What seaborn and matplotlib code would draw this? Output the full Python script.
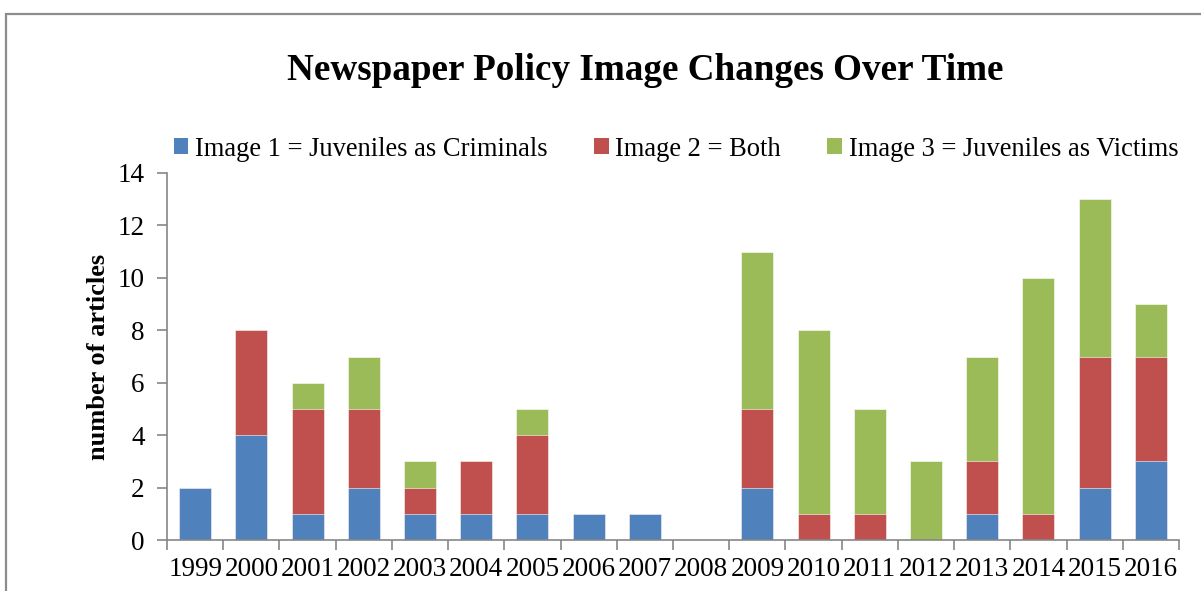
import numpy as np
import pandas as pd
import seaborn as sns
import matplotlib.pyplot as plt
from matplotlib.patches import Rectangle, Patch

years = ["1999", "2000", "2001", "2002", "2003", "2004", "2005", "2006", "2007",
         "2008", "2009", "2010", "2011", "2012", "2013", "2014", "2015", "2016"]
criminals = [2, 4, 1, 2, 1, 1, 1, 1, 1, 0, 2, 0, 0, 0, 1, 0, 2, 3]
both = [0, 4, 4, 3, 1, 2, 3, 0, 0, 0, 3, 1, 1, 0, 2, 1, 5, 4]
victims = [0, 0, 1, 2, 1, 0, 1, 0, 0, 0, 6, 7, 4, 3, 4, 9, 6, 2]

labels = ["Image 1 = Juveniles as Criminals", "Image 2 = Both",
          "Image 3 = Juveniles as Victims"]
colors = ["#4F81BD", "#C0504D", "#9BBB59"]

df = pd.DataFrame({"year": years, "criminals": criminals,
                   "both": both, "victims": victims})
df["lvl1"] = df["criminals"]
df["lvl2"] = df["criminals"] + df["both"]
df["lvl3"] = df["lvl2"] + df["victims"]

sns.set_theme(style="white")
plt.rcParams["font.family"] = ["Liberation Serif", "DejaVu Serif"]
plt.rcParams["text.color"] = "black"
plt.rcParams["axes.labelcolor"] = "black"

fig = plt.figure(figsize=(12.01, 5.91), dpi=100)
ax = fig.add_axes([167 / 1201, 1 - 540 / 591, (1179 - 167) / 1201, (540 - 173) / 591])

# stacked bars: draw cumulative totals, tallest first
for col, c in zip(["lvl3", "lvl2", "lvl1"], colors[::-1]):
    sns.barplot(data=df, x="year", y=col, color=c, width=0.57, ax=ax,
                saturation=1, edgecolor="white", linewidth=0.4)

ax.set_xlim(-0.5, len(years) - 0.5)
ax.set_ylim(0, 14)
ax.set_yticks(range(0, 15, 2))
ax.set_xlabel("")
ax.set_ylabel("number of articles", fontsize=19, fontweight="bold", labelpad=5.5)

axis_gray = "#868686"
for s in ["top", "right"]:
    ax.spines[s].set_visible(False)
for s in ["left", "bottom"]:
    ax.spines[s].set_color(axis_gray)
    ax.spines[s].set_linewidth(1.2)

ax.tick_params(axis="y", which="major", direction="out", length=7, width=1.2,
               color=axis_gray, labelcolor="black", labelsize=19.5, left=True, pad=9)
ax.set_xticks(np.arange(len(years) + 1) - 0.5, minor=True)
ax.set_xticks(np.arange(len(years)))
ax.set_xticklabels(years)
ax.tick_params(axis="x", which="major", length=0, labelsize=19.5,
               labelcolor="black", pad=12)
ax.tick_params(axis="x", which="minor", direction="out", length=7, width=1.2,
               color=axis_gray, bottom=True)

fig.text(645 / 1201, 1 - 71 / 591, "Newspaper Policy Image Changes Over Time",
         ha="center", va="center", fontsize=26.7, fontweight="bold")

handles = [Patch(facecolor=c, edgecolor="none") for c in colors]
fig.legend(handles, labels, loc="center", bbox_to_anchor=(676 / 1201, 1 - 149 / 591),
           ncol=3, frameon=False, fontsize=19.1, handlelength=0.55, handleheight=0.55,
           handletextpad=0.25, columnspacing=1.75, borderaxespad=0)

fig.patches.append(Rectangle((6 / 1201, -0.1), 1.2, 1 - 13.5 / 591 + 0.1,
                             transform=fig.transFigure, fill=False,
                             edgecolor="#8c8c8c", linewidth=1.6))

fig.savefig("out.png", dpi=100)
